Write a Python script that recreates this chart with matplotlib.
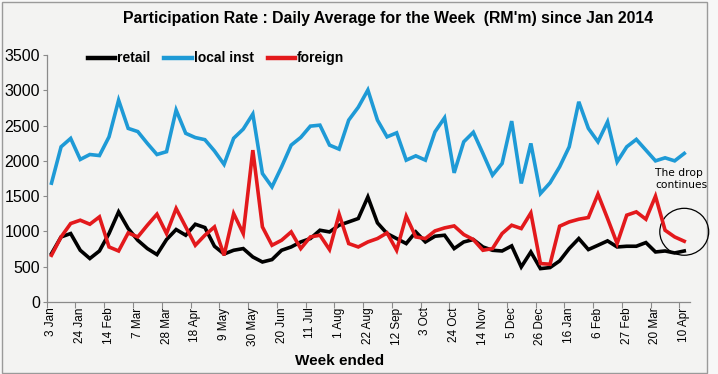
import matplotlib
matplotlib.use("Agg")
import matplotlib.pyplot as plt
from matplotlib.patches import Ellipse, Rectangle

# ---- data (RM'm, weekly, week ended 3 Jan 2014 .. 10 Apr 2015) ----
tick_labels = ["3 Jan", "24 Jan", "14 Feb", "7 Mar", "28 Mar", "18 Apr", "9 May",
               "30 May", "20 Jun", "11 Jul", "1 Aug", "22 Aug", "12 Sep", "3 Oct",
               "24 Oct", "14 Nov", "5 Dec", "26 Dec", "16 Jan", "6 Feb", "27 Feb",
               "20 Mar", "10 Apr"]

retail = [686, 922, 970, 733, 616, 723, 970, 1277, 1041, 875, 757, 672, 885, 1027,
          946, 1102, 1055, 790, 680, 733, 757, 638, 567, 601, 733, 780, 851, 899,
          1017, 993, 1088, 1135, 1183, 1489, 1121, 970, 899, 828, 993, 851, 932,
          946, 757, 851, 885, 780, 733, 723, 795, 497, 709, 473, 488, 582, 757,
          899, 743, 804, 866, 780, 790, 790, 842, 709, 723, 695, 723]

local_inst = [1684, 2199, 2318, 2020, 2090, 2075, 2340, 2860, 2460, 2415, 2247, 2090,
              2130, 2720, 2390, 2330, 2300, 2140, 1950, 2320, 2450, 2663, 1821, 1631,
              1915, 2223, 2332, 2492, 2506, 2223, 2166, 2577, 2760, 3004, 2577, 2340,
              2397, 2010, 2071, 2010, 2411, 2610, 1830, 2270, 2405, 2105, 1797, 1963,
              2563, 1680, 2247, 1537, 1688, 1915, 2199, 2837, 2460, 2270, 2553, 1986,
              2199, 2304, 2152, 2000, 2043, 2000, 2105]

foreign = [662, 922, 1112, 1159, 1102, 1206, 780, 723, 979, 922, 1088, 1244, 970,
           1325, 1064, 804, 946, 1064, 662, 1253, 970, 2152, 1064, 804, 875, 993, 757,
           922, 946, 743, 1244, 828, 780, 851, 899, 979, 733, 1216, 922, 899, 1007,
           1050, 1078, 956, 885, 733, 757, 970, 1088, 1041, 1262, 545, 535, 1074,
           1135, 1173, 1197, 1528, 1183, 828, 1230, 1277, 1173, 1499, 1017, 922, 861]

series_names = ["retail", "local inst", "foreign"]
colors = ["#000000", "#1E9AD6", "#E3191C"]

# ---- figure ----
W, H = 718, 374
fig = plt.figure(figsize=(W / 100, H / 100), dpi=100)
bg = "#F3F3F2"
fig.patch.set_facecolor("#F7F7F7")
fig.patches.append(Rectangle((2 / W, 1 / H), 705 / W, 371 / H, transform=fig.transFigure,
                             facecolor=bg, edgecolor="#9A9A9A", linewidth=1.0, zorder=-10))

plt.rcParams["font.family"] = ["Liberation Sans", "DejaVu Sans"]

ax = fig.add_axes([46.7 / W, 1 - 302 / H, (690 - 46.7) / W, (302 - 55) / H])
ax.set_facecolor("none")

x = list(range(len(retail)))
lines = []
for vals, name, c in zip([retail, local_inst, foreign], series_names, colors):
    ln, = ax.plot(x, vals, color=c, linewidth=2.6, label=name, solid_joinstyle="miter")
    lines.append(ln)

ax.set_xlim(-0.5, 66.6)
ax.set_ylim(0, 3500)
ax.set_yticks(range(0, 3501, 500))
ax.tick_params(axis="y", labelsize=11.5, length=3, width=0.8, color="#8A8A8A", pad=2,
               direction="out")

# tick marks between categories, labels at the categories
major_pos = [3 * k - 0.5 for k in range(len(tick_labels))]
ax.set_xticks(major_pos)
ax.set_xticklabels([""] * len(major_pos))
ax.set_xticks([3 * k for k in range(len(tick_labels))], minor=True)
ax.set_xticklabels(tick_labels, minor=True, rotation=90, fontsize=8.5)
ax.tick_params(axis="x", which="major", length=4, width=0.8, color="#8A8A8A",
               direction="out")
ax.tick_params(axis="x", which="minor", length=0, pad=4)

for s in ["top", "right"]:
    ax.spines[s].set_visible(False)
for s in ["left", "bottom"]:
    ax.spines[s].set_color("#8A8A8A")
    ax.spines[s].set_linewidth(0.9)

leg = ax.legend(handles=lines, loc="upper left", bbox_to_anchor=(0.045, 1.065), ncol=3,
                frameon=False, prop={"weight": "bold", "size": 10}, handlelength=1.95,
                handletextpad=0.15, columnspacing=1.0)
for h in leg.get_lines():
    h.set_linewidth(3.2)

fig.text(388 / W, 1 - 19 / H,
         "Participation Rate : Daily Average for the Week  (RM'm) since Jan 2014",
         ha="center", va="center", fontsize=11.4, fontweight="bold")
fig.text(340 / W, 1 - 361 / H, "Week ended", ha="center", va="center",
         fontsize=11, fontweight="bold")

# annotation
ax.text(63.0, 1900, "The drop\ncontinues", fontsize=7.7, family="DejaVu Sans",
        ha="left", va="top", linespacing=1.2)
ax.add_patch(Ellipse((66.0, 995), 5.1, 665, fill=False, edgecolor="black",
                     linewidth=0.9, clip_on=False))

fig.savefig("out.png", dpi=100, facecolor=fig.get_facecolor())
